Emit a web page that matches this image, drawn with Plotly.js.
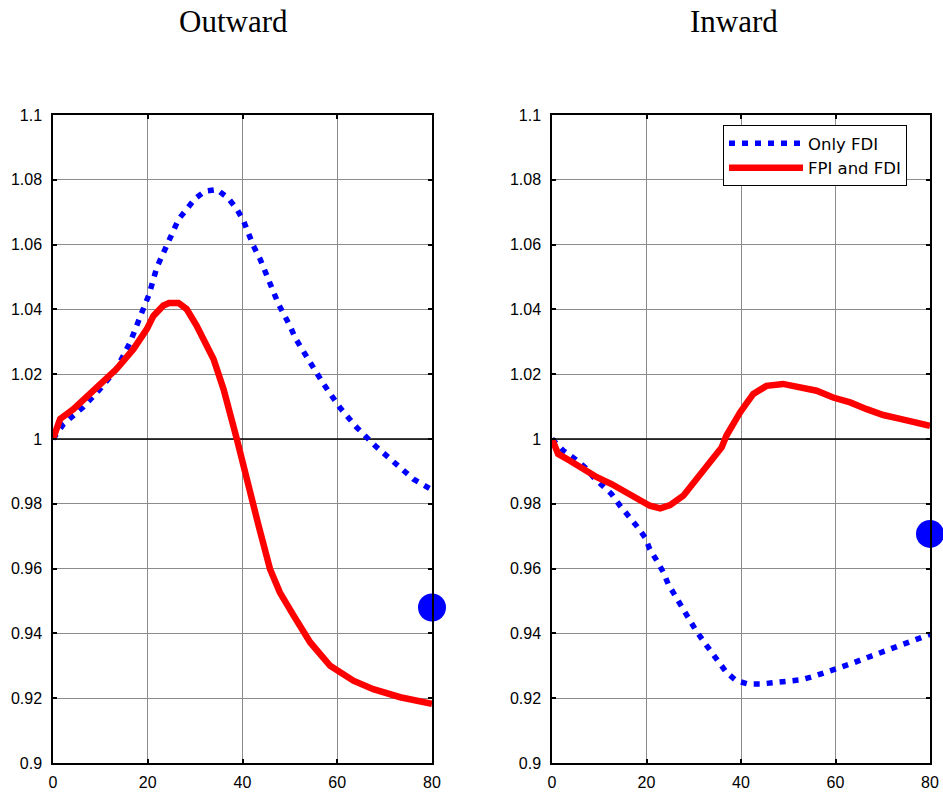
<!DOCTYPE html>
<html>
<head>
<meta charset="utf-8">
<script src="https://cdn.plot.ly/plotly-3.0.1.min.js"></script>
<style>html,body{margin:0;padding:0;background:#fff;}#chart{width:943px;height:795px;}</style>
</head>
<body>
<div id="chart"></div>
<script>
// ---- Data ----
const panelTitles = ["Outward", "Inward"];
const seriesNames = ["Only FDI", "FPI and FDI"];

const outOnlyFDI_x = [0,2.2,6.4,9.9,13.4,16.3,18.2,20.3,21.9,24.1,26.5,28.2,30,32.1,34.6,37,38.8,40.2,42.3,43.7,45.5,47.6,50,51.2,54.3,57.1,60.6,64.1,68,71.9,76.1,80];
const outOnlyFDI_y = [1.0,1.0046,1.0099,1.0154,1.0216,1.0299,1.037,1.0447,1.0529,1.0601,1.0678,1.0709,1.0742,1.0765,1.077,1.0743,1.071,1.0674,1.0596,1.0556,1.0486,1.0416,1.035,1.031,1.0236,1.017,1.0096,1.0036,0.9979,0.9928,0.9876,0.9843];

const outFPIFDI_x = [0,1.5,4.3,8.5,13.4,17,19.8,21.2,23.3,24.5,25.4,26.5,28.2,30.3,33.9,36,38.8,40.9,42,43.4,45.8,47.9,50.8,54.3,58.5,63.4,67.6,73.3,80];
const outFPIFDI_y = [1.0,1.0062,1.0092,1.0149,1.0216,1.0278,1.0339,1.038,1.0412,1.042,1.0422,1.042,1.0401,1.035,1.0246,1.0154,1.0,0.9886,0.9815,0.9732,0.9599,0.9526,0.9455,0.9372,0.93,0.9254,0.9228,0.9203,0.9183];

const inOnlyFDI_x = [0,2.4,4.9,7,8.8,10.9,12.6,14.4,16.2,17.9,19.7,20.7,22.2,23.6,24.6,26,27.4,28.8,30.3,32,33.8,35.2,36.9,39,41.5,44.3,47.2,50,52.8,55.3,58.1,60.9,63.4,65.9,68.7,71.2,74,76.5,80];
const inOnlyFDI_y = [1.0,0.9964,0.9938,0.9912,0.9882,0.9856,0.983,0.9794,0.9763,0.9732,0.9696,0.966,0.9624,0.9588,0.9552,0.9516,0.948,0.9449,0.9413,0.9377,0.9341,0.9311,0.928,0.9254,0.9244,0.9244,0.9247,0.9251,0.9257,0.9267,0.928,0.9295,0.9307,0.9321,0.9336,0.9346,0.9362,0.9377,0.9397];

const inFPIFDI_x = [0,1.3,3.8,6.6,9.5,12.6,15.8,18.6,20.7,22.9,25,27.8,30.6,33.4,35.9,36.9,39.8,42.6,45.4,48.9,52.4,56,59.5,63.1,66.6,70.1,73.7,76.5,80];
const inFPIFDI_y = [1.0,0.9954,0.9933,0.9907,0.9882,0.9861,0.9835,0.9809,0.9794,0.9786,0.9796,0.9825,0.9876,0.9928,0.9974,1.001,1.0082,1.0139,1.0164,1.017,1.0162,1.0149,1.0128,1.0113,1.0092,1.0074,1.0062,1.0051,1.0041];

const dotX = [80, 80];
const dotY = [0.948, 0.9707];

const xRange = [0, 80];
const xTickVals = [0,20,40,60,80];
const xTickText = ["0","20","40","60","80"];
const yTickVals = [0.9,0.92,0.94,0.96,0.98,1.0,1.02,1.04,1.06,1.08,1.1];
const yTickText = ["0.9","0.92","0.94","0.96","0.98","1","1.02","1.04","1.06","1.08","1.1"];
const refLineY = 1;

// ---- Styles ----
const blueLine = {color:'#0000ff', width:5.5, dash:'6px,7px'};
const redLine = {color:'#ff0000', width:6.5};
const refLine = {color:'#000000', width:1.3};

const traces = [
  {x:xRange, y:[refLineY, refLineY], xaxis:'x', yaxis:'y', mode:'lines', line:refLine, showlegend:false, hoverinfo:'skip'},
  {x:xRange, y:[refLineY, refLineY], xaxis:'x2', yaxis:'y2', mode:'lines', line:refLine, showlegend:false, hoverinfo:'skip'},
  {x:outOnlyFDI_x, y:outOnlyFDI_y, xaxis:'x', yaxis:'y', mode:'lines', line:blueLine, name:seriesNames[0], showlegend:false},
  {x:outFPIFDI_x, y:outFPIFDI_y, xaxis:'x', yaxis:'y', mode:'lines', line:redLine, name:seriesNames[1], showlegend:false},
  {x:inOnlyFDI_x, y:inOnlyFDI_y, xaxis:'x2', yaxis:'y2', mode:'lines', line:blueLine, name:seriesNames[0], showlegend:true},
  {x:inFPIFDI_x, y:inFPIFDI_y, xaxis:'x2', yaxis:'y2', mode:'lines', line:redLine, name:seriesNames[1], showlegend:true},
  {x:[dotX[0]], y:[dotY[0]], xaxis:'x', yaxis:'y', mode:'markers', marker:{color:'#0000ff', size:28}, showlegend:false, cliponaxis:false},
  {x:[dotX[1]], y:[dotY[1]], xaxis:'x2', yaxis:'y2', mode:'markers', marker:{color:'#0000ff', size:28}, showlegend:false, cliponaxis:false}
];

const tickFont = {family:'"Liberation Sans", Arial, sans-serif', size:16, color:'#000'};
function xa(domain, anchor){
  return {domain:domain, anchor:anchor, range:xRange, tickmode:'array', tickvals:xTickVals, ticktext:xTickText,
    showgrid:true, gridcolor:'#8c8c8c', gridwidth:1, zeroline:false, showline:true, linecolor:'#000', linewidth:1.5,
    mirror:'ticks', ticks:'inside', ticklen:4, tickcolor:'#000', tickwidth:1.5, tickfont:tickFont, ticklabelstandoff:4, fixedrange:true};
}
function ya(anchor){
  return {domain:[0,1], anchor:anchor, range:[0.9,1.1], tickmode:'array', tickvals:yTickVals, ticktext:yTickText,
    showgrid:true, gridcolor:'#8c8c8c', gridwidth:1, zeroline:false, showline:true, linecolor:'#000', linewidth:1.5,
    mirror:'ticks', ticks:'inside', ticklen:4, tickcolor:'#000', tickwidth:1.5, tickfont:tickFont, ticklabelstandoff:6, fixedrange:true};
}

const W = 943, mL = 53, mR = 13;
const pw = W - mL - mR;
const layout = {
  width:943, height:795,
  margin:{l:mL, r:mR, t:115, b:32, pad:0},
  paper_bgcolor:'#fff', plot_bgcolor:'#fff',
  showlegend:true,
  xaxis: xa([0, (432-mL)/pw], 'y'),
  yaxis: ya('x'),
  xaxis2: xa([(552-mL)/pw, 1], 'y2'),
  yaxis2: ya('x2'),
  legend:{x:(723-mL)/pw, y:(763-125)/648, xanchor:'left', yanchor:'top', bgcolor:'#fff', bordercolor:'#000', borderwidth:1,
    font:{family:'"DejaVu Sans", "Liberation Sans", sans-serif', size:16.5, color:'#000'}, itemwidth:74, tracegroupgap:0},
  annotations:[
    {text:panelTitles[0], xref:'paper', yref:'paper', x:(233-mL)/pw, y:(763-22)/648, xanchor:'center', yanchor:'middle', showarrow:false,
      font:{family:'"Liberation Serif", "Times New Roman", serif', size:31, color:'#000'}},
    {text:panelTitles[1], xref:'paper', yref:'paper', x:(734-mL)/pw, y:(763-22)/648, xanchor:'center', yanchor:'middle', showarrow:false,
      font:{family:'"Liberation Serif", "Times New Roman", serif', size:31, color:'#000'}}
  ]
};

Plotly.newPlot('chart', traces, layout, {displayModeBar:false});
</script>
</body>
</html>
